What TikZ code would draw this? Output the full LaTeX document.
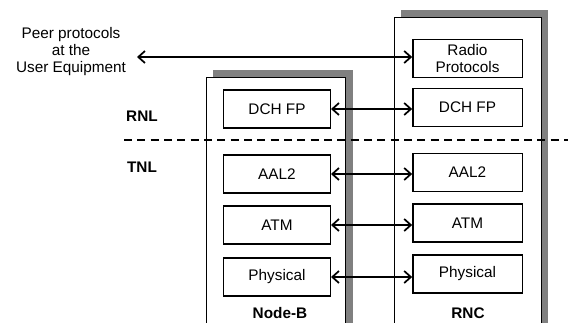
\documentclass[tikz,border=0pt]{standalone}
\usepackage{fontspec}
\setmainfont{Liberation Sans}
\usetikzlibrary{arrows.meta}
\tikzset{
  layer/.style={draw, line width=1pt, fill=white, minimum width=80pt, minimum height=28.5pt, inner sep=0pt, font=\fontsize{11.5}{12.75}\selectfont},
  peer/.style={{Straight Barb[length=5pt,width=9pt]}-{Straight Barb[length=5pt,width=9pt]}, line width=1.3pt},
  tag/.style={font=\fontsize{11.5}{12.75}\selectfont\bfseries, inner sep=0.75pt}
}
\begin{document}
\begin{tikzpicture}[x=0.75pt,y=0.75pt,yscale=-1,xscale=1]
\clip (0,0) rectangle (568,322);

%Shape: Node-B shadow and box
\fill [black!50] (213,70) rectangle (353,330) ;
\draw [line width=0.6pt, fill=white] (206,77) rectangle (345,330) ;
%Shape: RNC shadow and box
\fill [black!50] (401,10) rectangle (548,330) ;
\draw [line width=0.6pt, fill=white] (394,17) rectangle (541,330) ;

%Straight Lines: RNL / TNL border
\draw [line width=1.5pt, dash pattern={on 6pt off 4pt}] (124,140) -- (568,140) ;

% Node-B layers
\node [layer] (nbdch) at (277,109) {DCH FP};
\node [layer] (nbaal) at (277,174) {AAL2};
\node [layer] (nbatm) at (277,225) {ATM};
\node [layer] (nbphy) at (277,277) {Physical};
% RNC layers
\node [layer, minimum width=82pt] (rncradio) at (467.5,58.5) {\shortstack{Radio\\[1pt]Protocols}};
\node [layer, minimum width=82pt] (rncdch) at (467.5,107.5) {DCH FP};
\node [layer, minimum width=82pt] (rncaal) at (467.5,172.5) {AAL2};
\node [layer, minimum width=82pt] (rncatm) at (467.5,223) {ATM};
\node [layer, minimum width=82pt] (rncphy) at (467.5,274) {Physical};

% Text Node
\node [align=center, font=\fontsize{11.5}{12.75}\selectfont, inner sep=0.75pt] (ue) at (71,52) {Peer protocols\\at the\\User Equipment};
\node [tag] (rnl) at (142,116) {RNL};
\node [tag] (tnl) at (142,167) {TNL};
\node [tag] (nodeb) at (280,313) {Node-B};
\node [tag] (rnc) at (468,313) {RNC};

% connectors
\coordinate (uearrow) at (137,57);
\draw [peer] (uearrow) -- (uearrow -| rncradio.west) ;
\draw [peer] (nbdch.east) -- (nbdch.east -| rncdch.west) ;
\draw [peer] (nbaal.east) -- (nbaal.east -| rncaal.west) ;
\draw [peer] (nbatm.east) -- (nbatm.east -| rncatm.west) ;
\draw [peer] (nbphy.east) -- (nbphy.east -| rncphy.west) ;

\end{tikzpicture}
\end{document}
